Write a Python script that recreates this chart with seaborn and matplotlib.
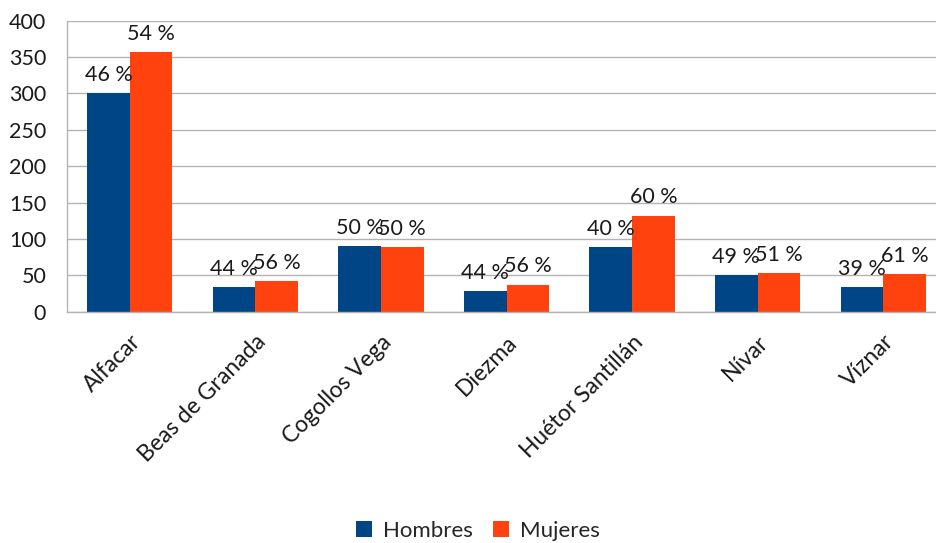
import matplotlib
matplotlib.use("Agg")
import matplotlib.pyplot as plt
import seaborn as sns
import pandas as pd

categories = ["Alfacar", "Beas de Granada", "Cogollos Vega", "Diezma",
              "Huétor Santillán", "Nívar", "Víznar"]
hombres = [300, 34, 90, 28, 89, 50, 34]
mujeres = [357, 42, 89, 37, 132, 53, 52]
pct_hombres = ["46 %", "44 %", "50 %", "44 %", "40 %", "49 %", "39 %"]
pct_mujeres = ["54 %", "56 %", "50 %", "56 %", "60 %", "51 %", "61 %"]
series = ["Hombres", "Mujeres"]
colors = ["#004586", "#ff420e"]

df = pd.DataFrame({
    "cat": categories * 2,
    "serie": [series[0]] * len(categories) + [series[1]] * len(categories),
    "val": hombres + mujeres,
})

sns.set_style("white")
plt.rcParams["font.family"] = ["Lato", "DejaVu Sans"]

fig = plt.figure(figsize=(9.36, 5.43), dpi=100)
ax = fig.add_axes([67 / 936, (543 - 311.7) / 543, (946 - 67) / 936, (311.7 - 20.7) / 543])

sns.barplot(data=df, x="cat", y="val", hue="serie", palette=colors,
            width=0.68, gap=0, saturation=1, ax=ax, legend=True,
            errorbar=None, linewidth=0, edgecolor="none")

for cont, labs in zip(ax.containers, [pct_hombres, pct_mujeres]):
    ax.bar_label(cont, labels=labs, padding=6, fontsize=15.5, color="#1a1a1a")

ax.set_ylim(0, 400)
ax.set_xlim(-0.5, len(categories) - 0.5)
ax.set_yticks(range(0, 401, 50))
ax.yaxis.grid(True, color="#b3b3b3", linewidth=1)
ax.set_axisbelow(True)
ax.set_xlabel("")
ax.set_ylabel("")

ax.set_xticks([i - 0.5 for i in range(len(categories) + 1)], minor=False)
ax.set_xticklabels([])
ax.set_xticks(range(len(categories)), minor=True)
ax.set_xticklabels(categories, minor=True, rotation=45, ha="right",
                   rotation_mode="anchor", fontsize=16.5, color="#1a1a1a")
ax.tick_params(axis="x", which="minor", length=0, pad=14)
ax.tick_params(axis="x", which="major", length=10, color="#b3b3b3", width=1)
ax.tick_params(axis="y", length=12, color="#b3b3b3", width=1, labelsize=15.5,
               labelcolor="#1a1a1a", pad=3)

for s in ["top", "right"]:
    ax.spines[s].set_visible(False)
for s in ["left", "bottom"]:
    ax.spines[s].set_color("#b3b3b3")
    ax.spines[s].set_linewidth(1)

leg = ax.legend(loc="center", bbox_to_anchor=(478 / 936, 0.022),
                bbox_transform=fig.transFigure, ncol=2, frameon=False,
                fontsize=16, handlelength=0.7, handleheight=0.7,
                handletextpad=0.5, columnspacing=0.9, title=None)

fig.savefig("out.png", dpi=100)
